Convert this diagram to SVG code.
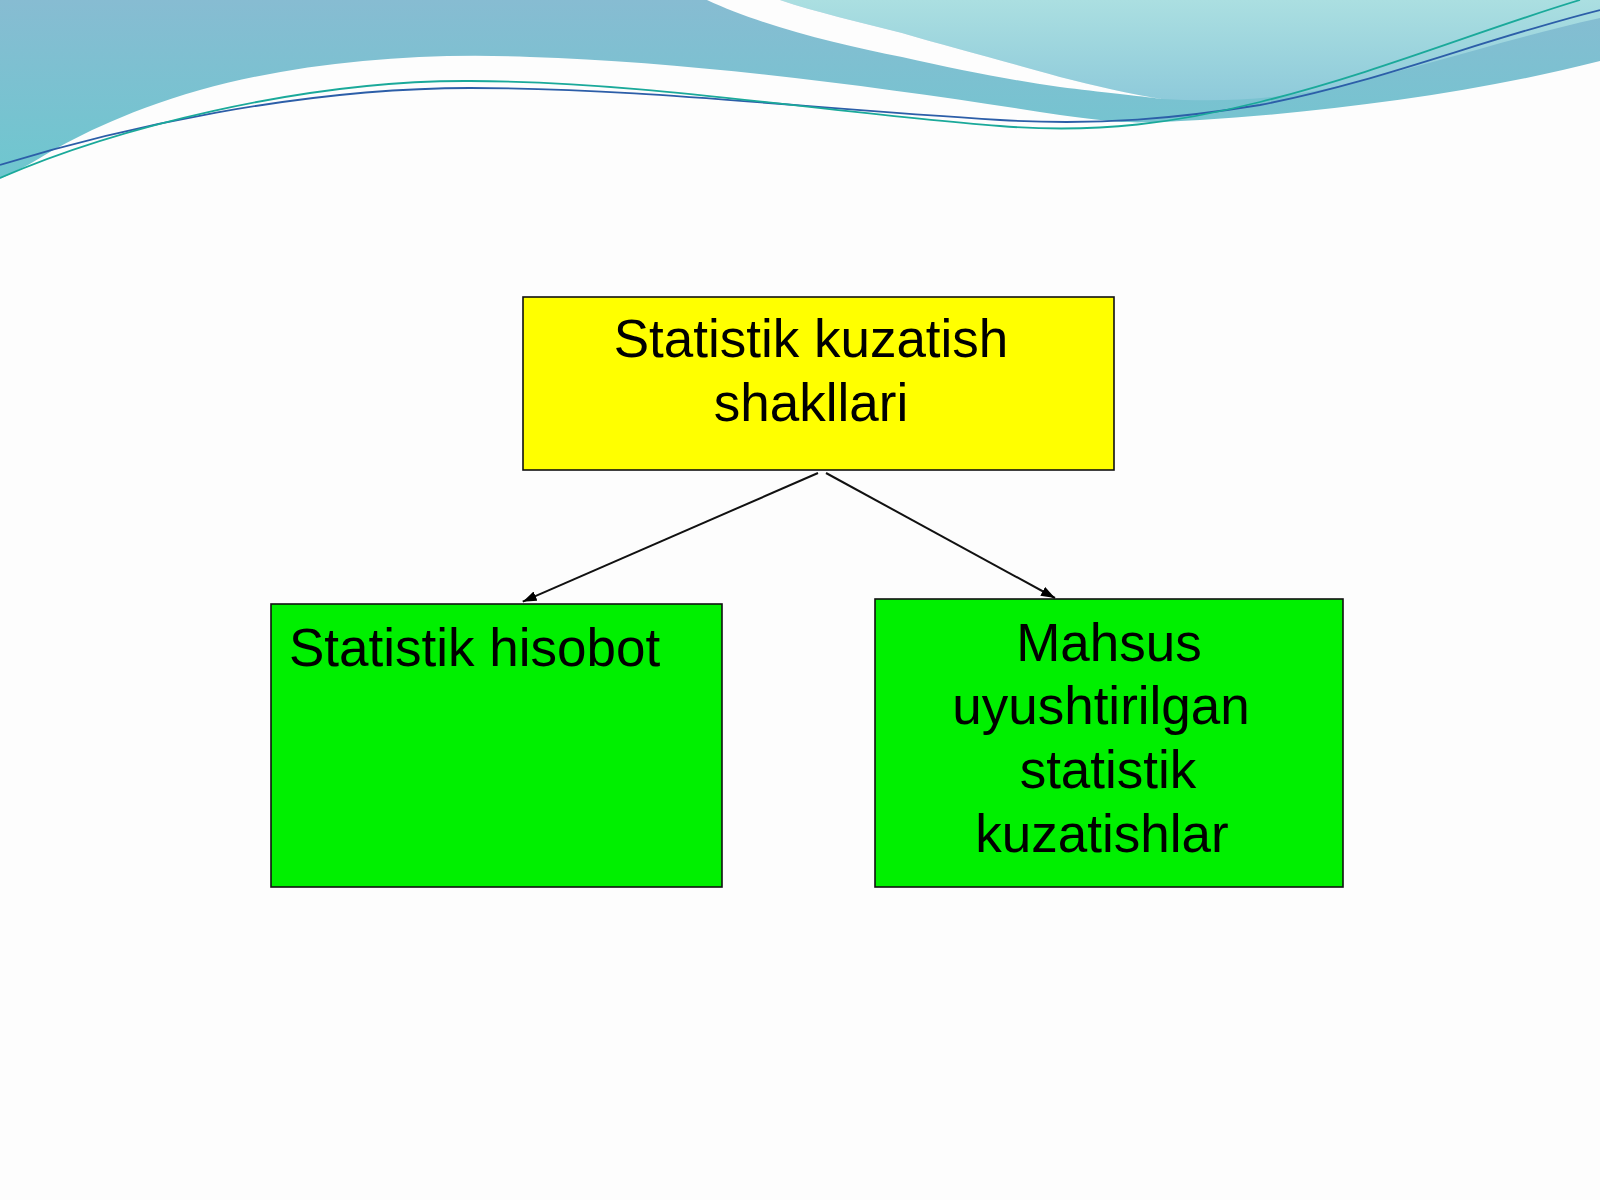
<svg xmlns="http://www.w3.org/2000/svg" width="1600" height="1200" viewBox="0 0 1600 1200">
  <style>
    .box { stroke: #111; stroke-width: 1.6; }
    .yellow { fill: #ffff00; }
    .green { fill: #00f000; }
    .lbl { font-family: "Liberation Sans", Arial, sans-serif; font-size: 53px; fill: #000; }
    .mid { text-anchor: middle; }
    .conn { stroke: #111; stroke-width: 2; fill: none; marker-end: url(#arrow); }
  </style>
  <defs>
    <marker id="arrow" viewBox="0 0 14 10" refX="14" refY="5" markerWidth="14" markerHeight="10" markerUnits="userSpaceOnUse" orient="auto">
      <path d="M0,0 L14,5 L0,10 Z" fill="#000"/>
    </marker>
    <linearGradient id="tealM" x1="0" y1="0" x2="0" y2="1">
      <stop offset="0" stop-color="#87bcd2"/>
      <stop offset="1" stop-color="#6ec7cf"/>
    </linearGradient>
    <linearGradient id="tealL" x1="0" y1="0" x2="0" y2="1">
      <stop offset="0" stop-color="#abdfe1"/>
      <stop offset="1" stop-color="#8ecada"/>
    </linearGradient>
  </defs>

  <rect x="0" y="0" width="1600" height="1200" fill="#fdfdfd"/>

  <g id="header">
    <path fill="url(#tealM)" d="M0,0 L1600,0 L1600,61 C1480,92 1330,112 1200,120 C1150,123 1125,123 1110,121 C1090,119 1075,117 1060,115 C900,90 700,62 530,57 C420,52 300,62 200,90 C120,113 70,140 40,158 C25,167 10,174 0,179 Z"/>
    <path fill="url(#tealL)" d="M780,0 L1600,0 L1600,18 C1510,38 1420,68 1330,88 C1270,100 1220,102 1162,99 C1130,94 1095,86 1060,77 C1000,60 950,47 902,33 C860,22 815,12 780,0 Z"/>
    <path fill="#fdfdfd" d="M707,0 C760,25 840,45 902,57 C960,70 1010,80 1060,87 C1100,92 1140,96 1162,99 C1130,94 1095,86 1060,77 C1000,60 950,47 902,33 C860,22 815,12 780,0 Z"/>
    <path fill="none" stroke="#2c5ea8" stroke-width="1.8" d="M0,165 C120,128 300,88 470,88 C640,88 800,108 1000,120 C1100,126 1180,118 1260,105 C1380,82 1480,40 1600,10"/>
    <path fill="none" stroke="#1aa99a" stroke-width="1.8" d="M0,178 C110,130 300,80 470,81 C650,82 820,112 1000,126 C1100,134 1180,122 1260,102 C1380,72 1480,30 1580,0"/>
  </g>

  <g id="connectors">
    <line class="conn" x1="818" y1="473" x2="522.7" y2="601.7"/>
    <line class="conn" x1="826" y1="473" x2="1055" y2="598"/>
  </g>

  <g id="node-root">
    <rect class="box yellow" x="523" y="297" width="591" height="173"/>
    <text class="lbl mid" x="811" y="357">Statistik kuzatish</text>
    <text class="lbl mid" x="811" y="421">shakllari</text>
  </g>

  <g id="node-hisobot">
    <rect class="box green" x="271" y="604" width="451" height="283"/>
    <text class="lbl" x="289" y="666">Statistik hisobot</text>
  </g>

  <g id="node-mahsus">
    <rect class="box green" x="875" y="599" width="468" height="288"/>
    <text class="lbl mid" x="1109" y="661">Mahsus</text>
    <text class="lbl mid" x="1101" y="724">uyushtirilgan</text>
    <text class="lbl mid" x="1108" y="788">statistik</text>
    <text class="lbl mid" x="1102" y="852">kuzatishlar</text>
  </g>
</svg>
